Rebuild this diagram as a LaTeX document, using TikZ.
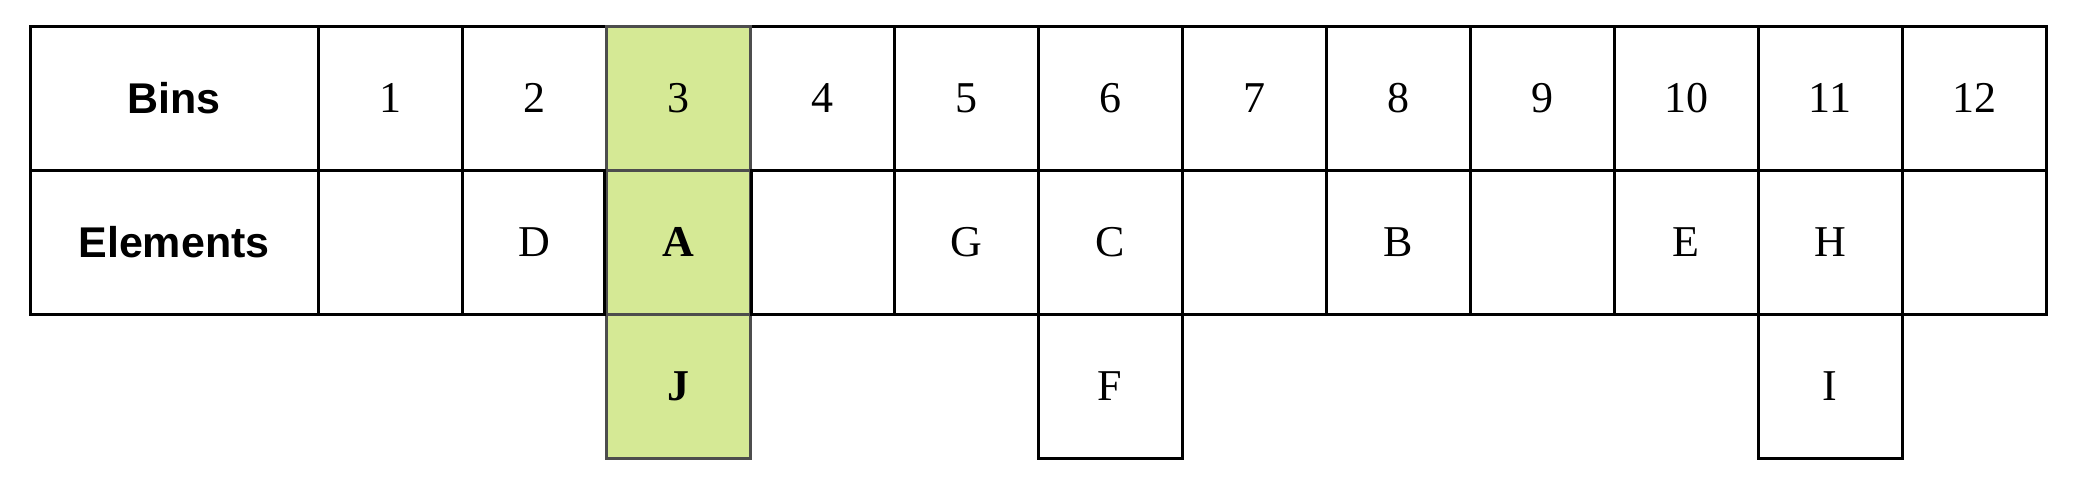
\documentclass[tikz,border=0pt]{standalone}
\usepackage{fontspec}
\setmainfont{Liberation Serif}
\newfontfamily\hdrfont{Liberation Sans}
\definecolor{binfill}{RGB}{213,233,149}
\definecolor{binedge}{RGB}{77,77,77}
\begin{document}
\begin{tikzpicture}[x=1pt,y=-1pt,
  cell/.style={draw=black,line width=3pt,minimum width=144pt,minimum height=144pt,inner sep=0pt,font=\fontsize{44}{44}\selectfont},
  headcell/.style={cell,minimum width=288pt,font=\hdrfont\bfseries\fontsize{43}{43}\selectfont},
  hlcell/.style={cell,fill=binfill,draw=binedge}]
\useasboundingbox (0,0) rectangle (2077,480);
\node[headcell] (binsH) at (174,98) {Bins};
\node[headcell] (elemH) at (174,242) {Elements};
\foreach \k/\e in {1/{},2/D,4/{},5/G,6/C,7/{},8/B,9/{},10/E,11/H,12/{}}{
  \node[cell] (bin\k) at ({390+144*(\k-1)},98) {\k};
  \node[cell] (el\k) at ({390+144*(\k-1)},242) {\e};
}
\node[cell] (ext6) at ({390+144*5},386) {F};
\node[cell] (ext11) at ({390+144*10},386) {I};
\node[hlcell] (bin3) at (678,98) {3};
\node[hlcell,font=\bfseries\fontsize{44}{44}\selectfont] (el3) at (678,242) {A};
\node[hlcell,font=\bfseries\fontsize{44}{44}\selectfont] (ext3) at (678,386) {J};
\draw[line width=3pt] (el3.north west) -- (el3.south west);
\draw[line width=3pt] (el3.north east) -- (el3.south east);
\end{tikzpicture}
\end{document}
